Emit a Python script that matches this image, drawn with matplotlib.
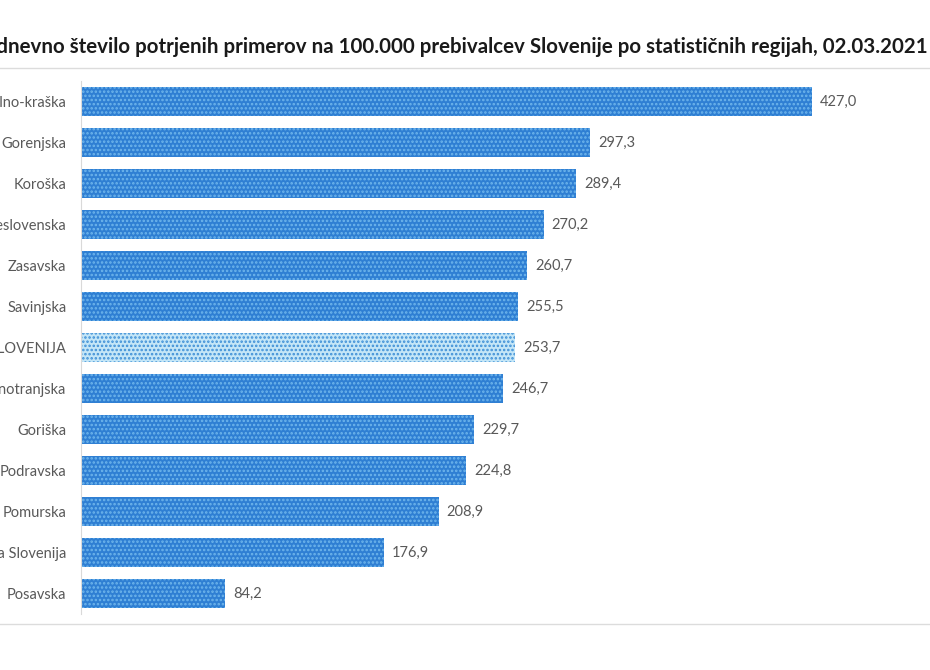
import matplotlib
matplotlib.use("Agg")
import matplotlib.pyplot as plt
from matplotlib.lines import Line2D

regions = ["Obalno-kraška", "Gorenjska", "Koroška", "Osrednjeslovenska", "Zasavska",
           "Savinjska", "SLOVENIJA", "Primorsko-notranjska", "Goriška", "Podravska",
           "Pomurska", "Jugovzhodna Slovenija", "Posavska"]
values = [427.0, 297.3, 289.4, 270.2, 260.7, 255.5, 253.7, 246.7, 229.7, 224.8,
          208.9, 176.9, 84.2]
title = ("14-dnevno število potrjenih primerov na 100.000 prebivalcev Slovenije "
         "po statističnih regijah, 02.03.2021")

plt.rcParams['font.family'] = ['Lato', 'DejaVu Sans']
plt.rcParams['hatch.linewidth'] = 1.2

W, H = 930, 670
fig = plt.figure(figsize=(W / 100, H / 100), dpi=100)
left_px, right_px = 81, 930
top_px, bot_px = 81, 614
ax = fig.add_axes([left_px / W, 1 - bot_px / H, (right_px - left_px) / W, (bot_px - top_px) / H])

n = len(regions)
ypos = list(range(n))
for i, (r, v) in enumerate(zip(regions, values)):
    if r == "SLOVENIJA":
        fc, hc = '#c4e6f7', '#3d8fd6'
    else:
        fc, hc = '#2f7fd3', '#6fb6ec'
    ax.barh(i, v, height=0.71, color=fc, edgecolor=hc, linewidth=0, hatch='....')
    ax.text(v + 4.7, i, f"{v:.1f}".replace('.', ','), va='center', ha='left',
            fontsize=10.5, color='#595959')

ax.set_ylim(n - 0.5, -0.5)
ax.set_xlim(0, (right_px - left_px) / 1.712)
ax.set_yticks(ypos)
ax.set_yticklabels(regions, fontsize=10.5, color='#595959')
ax.tick_params(axis='y', length=0, pad=10.5)
ax.set_xticks([])
for s in ['top', 'right', 'bottom']:
    ax.spines[s].set_visible(False)
ax.spines['left'].set_color('#d9d9d9')
ax.spines['left'].set_linewidth(0.8)

fig.text(928 / W, 1 - 47 / H, title, ha='right', va='center', fontsize=14.75,
         fontweight='bold', color='#1a1a1a')

fig.add_artist(Line2D([0, 1], [1 - 68 / H, 1 - 68 / H], color='#dcdcdc', lw=1, transform=fig.transFigure))
fig.add_artist(Line2D([0, 1], [1 - 624 / H, 1 - 624 / H], color='#dcdcdc', lw=1, transform=fig.transFigure))

fig.savefig("out.png", dpi=100, facecolor='white')
